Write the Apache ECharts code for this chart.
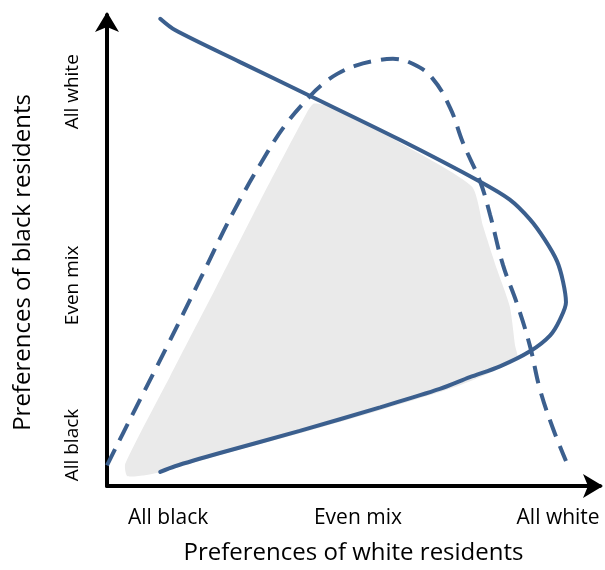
<!DOCTYPE html>
<html>
<head>
<meta charset="utf-8">
<script src="https://cdn.jsdelivr.net/npm/echarts@6/dist/echarts.min.js"></script>
<style>
  html, body { margin: 0; padding: 0; background: #fff; }
  #chart { width: 605px; height: 570px; }
</style>
</head>
<body>
<div id="chart"></div>
<script>
// axis label positions (0-100 preference scale)
const xTickValues = [12.4, 50.9, 91.5]
const yTickValues = [8.7, 42.6, 83.7]
const tickLabels = ['All black', 'Even mix', 'All white']

// solid curve: black residents' preferred mix
const solidX = [10.8, 13.8, 27.0, 41.2, 59.4, 75.7, 81.7, 85.8, 88.8, 91.3, 92.5, 93.1, 91.9, 89.9, 85.8, 79.7, 73.6, 67.5, 55.4, 39.1, 22.9, 13.8, 10.8]
const solidY = [99.2, 96.8, 90.0, 82.8, 73.5, 64.6, 60.8, 56.6, 52.3, 47.7, 43.4, 39.0, 35.4, 32.0, 28.6, 25.4, 23.1, 20.6, 16.7, 11.7, 7.0, 4.2, 3.0]

// dashed curve: white residents' preferred mix
const dashX = [0, 4.7, 12.2, 18.9, 25.6, 32.5, 36.5, 41.2, 43.6, 46.7, 50.3, 54.4, 58.0, 62.1, 65.9, 69.6, 72.2, 75.7, 77.7, 80.3, 83.2, 85.8, 87.8, 90.5, 93.1]
const dashY = [4.4, 14.2, 29.7, 43.9, 58.1, 70.8, 77.1, 82.8, 85.2, 87.5, 89.2, 90.3, 90.7, 89.6, 86.7, 80.3, 72.9, 64.6, 57.6, 47.0, 38.6, 29.7, 20.6, 12.1, 5.3]

// shaded region where both groups are satisfied
const shadeX = [4.1, 3.7, 12.8, 21.9, 31.0, 40.6, 42.0, 46.2, 59.4, 74.0, 76.3, 79.1, 81.7, 82.8, 83.2, 71.6, 55.4, 39.1, 22.9, 11.8, 7.7]
const shadeY = [2.1, 4.7, 23.3, 41.7, 60.4, 79.4, 81.2, 80.3, 72.9, 63.6, 55.1, 46.0, 38.1, 29.7, 26.9, 21.4, 16.1, 11.2, 6.6, 3.2, 2.3]

const lineColor = '#3b5f8e'
const font = 'Open Sans'

const chart = echarts.init(document.getElementById('chart'))

function labelFor(list) {
  return value => {
    const i = list.findIndex(v => Math.abs(v - value) < 0.01)
    return i >= 0 ? tickLabels[i] : ''
  }
}

chart.setOption({
  animation: false,
  grid: { left: 107, right: 5, top: 15, bottom: 84 },
  xAxis: {
    type: 'value',
    min: 0,
    max: 100,
    name: 'Preferences of white residents',
    nameLocation: 'middle',
    nameGap: 55,
    nameTextStyle: { fontFamily: font, fontSize: 24, color: '#000' },
    axisLine: {
      show: true,
      symbol: ['none', 'arrow'],
      symbolSize: [18, 20],
      symbolOffset: [0, 3],
      lineStyle: { color: '#000', width: 4 },
    },
    axisTick: { show: false },
    splitLine: { show: false },
    axisLabel: {
      customValues: xTickValues,
      formatter: labelFor(xTickValues),
      margin: 22,
      fontFamily: font,
      fontSize: 21,
      color: '#000',
    },
  },
  yAxis: {
    type: 'value',
    min: 0,
    max: 100,
    name: 'Preferences of black residents',
    nameLocation: 'middle',
    nameGap: 72,
    nameTextStyle: { fontFamily: font, fontSize: 24, color: '#000', padding: [0, 24, 0, 0] },
    axisLine: {
      show: true,
      symbol: ['none', 'arrow'],
      symbolSize: [18, 20],
      symbolOffset: [0, 3],
      lineStyle: { color: '#000', width: 4 },
    },
    axisTick: { show: false },
    splitLine: { show: false },
    axisLabel: {
      customValues: yTickValues,
      formatter: labelFor(yTickValues),
      rotate: 90,
      margin: 25,
      fontFamily: font,
      fontSize: 19,
      color: '#000',
    },
  },
  series: [
    {
      type: 'custom',
      data: [[0, 0]],
      z: 1,
      renderItem: (params, api) => {
        const points = shadeX.map((x, i) => api.coord([x, shadeY[i]]))
        return {
          type: 'polygon',
          shape: { points, smooth: 0.2 },
          style: { fill: '#eaeaea' },
        }
      },
    },
    {
      type: 'line',
      data: dashX.map((x, i) => [x, dashY[i]]),
      smooth: 0.4,
      showSymbol: false,
      z: 3,
      lineStyle: { color: lineColor, width: 4, type: [18, 10] },
    },
    {
      type: 'line',
      data: solidX.map((x, i) => [x, solidY[i]]),
      smooth: 0.3,
      showSymbol: false,
      z: 4,
      lineStyle: { color: lineColor, width: 4, cap: 'round' },
    },
  ],
})
</script>
</body>
</html>
